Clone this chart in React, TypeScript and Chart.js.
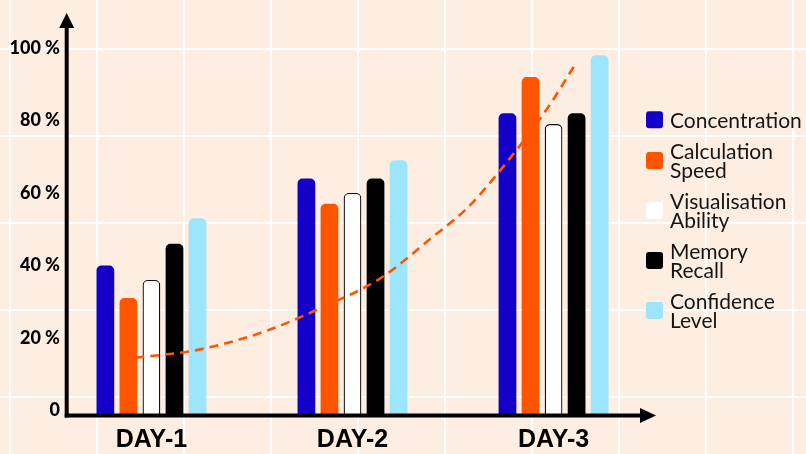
import { useEffect, useRef } from 'react';
import { Chart, registerables } from 'chart.js';

Chart.register(...registerables);

const categories = ['DAY-1', 'DAY-2', 'DAY-3'];
const seriesNames = ['Concentration', 'Calculation Speed', 'Visualisation Ability', 'Memory Recall', 'Confidence Level'];
const concentration = [40, 64, 82];
const calculationSpeed = [31, 57, 92];
const visualisationAbility = [36, 60, 79];
const memoryRecall = [46, 64, 82];
const confidenceLevel = [53, 69, 98];
const seriesValues = [concentration, calculationSpeed, visualisationAbility, memoryRecall, confidenceLevel];
const seriesColors = ['#1400C8', '#FF5500', '#FFFFFF', '#000000', '#9BE5FD'];
const trendX = [0.92, 1.23, 1.56, 1.84, 2.14, 2.4, 2.57, 2.73, 2.97, 3.1];
const trendY = [14.5, 16.7, 21.7, 28.2, 36.5, 47.9, 55.8, 65.9, 83.4, 94.8];
const yTickValues = [0, 20, 40, 60, 80, 100];

const BG = '#FDEEE1';

const backgroundPlugin = {
  id: 'paperBackground',
  beforeDraw(chart: any) {
    const { ctx, width, height } = chart;
    ctx.save();
    ctx.fillStyle = BG;
    ctx.fillRect(0, 0, width, height);
    ctx.fillStyle = '#FFFFFF';
    for (let x = 9; x < width; x += 87) ctx.fillRect(x, 0, 2, height);
    for (let y = 48; y < height; y += 87) ctx.fillRect(0, y, width, 2);
    ctx.restore();
  },
};

const axesPlugin = {
  id: 'arrowAxes',
  afterDraw(chart: any) {
    const { ctx, chartArea } = chart;
    const ax = chartArea.left + 0.7;
    const ay = chartArea.bottom + 1.5;
    ctx.save();
    ctx.strokeStyle = '#000';
    ctx.fillStyle = '#000';
    ctx.lineWidth = 4;
    ctx.beginPath();
    ctx.moveTo(ax, ay + 2);
    ctx.lineTo(ax, 26);
    ctx.stroke();
    ctx.beginPath();
    ctx.moveTo(ax - 2, ay);
    ctx.lineTo(chartArea.right + 2, ay);
    ctx.stroke();
    ctx.beginPath();
    ctx.moveTo(ax - 7.5, 28);
    ctx.lineTo(ax, 13);
    ctx.lineTo(ax + 7.5, 28);
    ctx.closePath();
    ctx.fill();
    ctx.beginPath();
    ctx.moveTo(chartArea.right, ay - 7.5);
    ctx.lineTo(chartArea.right + 16, ay);
    ctx.lineTo(chartArea.right, ay + 7.5);
    ctx.closePath();
    ctx.fill();
    ctx.restore();
  },
};

const legendPlugin = {
  id: 'sideLegend',
  afterDraw(chart: any) {
    const { ctx, chartArea } = chart;
    const x = chartArea.right + 6;
    const box = 17;
    const lineH = 18.5;
    const gap = 13;
    let y = 110.5;
    ctx.save();
    ctx.font = '400 21px Lato';
    ctx.textBaseline = 'middle';
    ctx.textAlign = 'left';
    chart.data.datasets.forEach((ds: any) => {
      if (ds.type === 'line') return;
      const lines = String(ds.label).split(' ');
      const h = lines.length * lineH;
      const cy = y + h / 2;
      ctx.fillStyle = ds.backgroundColor;
      ctx.beginPath();
      ctx.roundRect(x, cy - box / 2, box, box, 3);
      ctx.fill();
      ctx.fillStyle = '#151515';
      lines.forEach((t: string, i: number) => ctx.fillText(t, x + 24, y + lineH * (i + 0.5) + 1));
      y += h + gap;
    });
    ctx.restore();
  },
};

export default function App() {
  const ref = useRef<HTMLCanvasElement>(null);
  useEffect(() => {
    const barSets = seriesNames.map((name, s) => ({
      type: 'bar' as const,
      label: name,
      data: seriesValues[s].map((v, i) => ({ x: i + 1, y: v })),
      backgroundColor: seriesColors[s],
      borderColor: s === 2 ? '#111111' : seriesColors[s],
      borderWidth: s === 2 ? 1.3 : 0,
      borderRadius: 5,
      borderSkipped: 'start' as const,
      base: -1,
      categoryPercentage: 0.573,
      barPercentage: 0.77,
      order: 1,
    }));
    const trendSet = {
      type: 'line' as const,
      label: 'Trend',
      data: trendX.map((x, i) => ({ x, y: trendY[i] })),
      borderColor: '#FF5500',
      borderWidth: 2.6,
      borderDash: [9, 6],
      pointRadius: 0,
      fill: false,
      cubicInterpolationMode: 'monotone' as const,
      order: 0,
    };
    const chart = new Chart(ref.current!, {
      type: 'bar',
      data: { datasets: [...barSets, trendSet] as any },
      options: {
        animation: false,
        responsive: true,
        maintainAspectRatio: false,
        layout: { padding: { top: 48, right: 166, left: 0, bottom: 0 } },
        plugins: { legend: { display: false }, tooltip: { enabled: false } },
        scales: {
          x: {
            type: 'linear',
            min: 0.575,
            max: 3.43,
            offset: false,
            grid: { display: false, drawTicks: false },
            border: { display: false },
            afterBuildTicks: (scale: any) => {
              scale.ticks = categories.map((_, i) => ({ value: i + 1 }));
            },
            afterFit: (scale: any) => {
              scale.height = 40;
            },
            ticks: {
              autoSkip: false,
              maxRotation: 0,
              padding: 11,
              color: '#000',
              font: { family: 'Liberation Sans', size: 25, weight: 'bold' },
              callback: (v: any) => categories[Number(v) - 1] ?? '',
            },
          },
          y: {
            min: -1,
            max: 100,
            grid: { display: false, drawTicks: false },
            border: { display: false },
            afterBuildTicks: (scale: any) => {
              scale.ticks = yTickValues.map((v) => ({ value: v }));
            },
            afterFit: (scale: any) => {
              scale.width = 66;
            },
            ticks: {
              padding: 6,
              color: '#000',
              font: { family: 'Lato', size: 18, weight: '900' },
              callback: (v: any) => (Number(v) === 0 ? '0' : `${v} %`),
            },
          },
        },
      },
      plugins: [backgroundPlugin, axesPlugin, legendPlugin],
    });
    return () => chart.destroy();
  }, []);
  return (
    <div style={{ position: 'fixed', left: 0, top: 0, width: 806, height: 454 }}>
      <canvas ref={ref} />
    </div>
  );
}
